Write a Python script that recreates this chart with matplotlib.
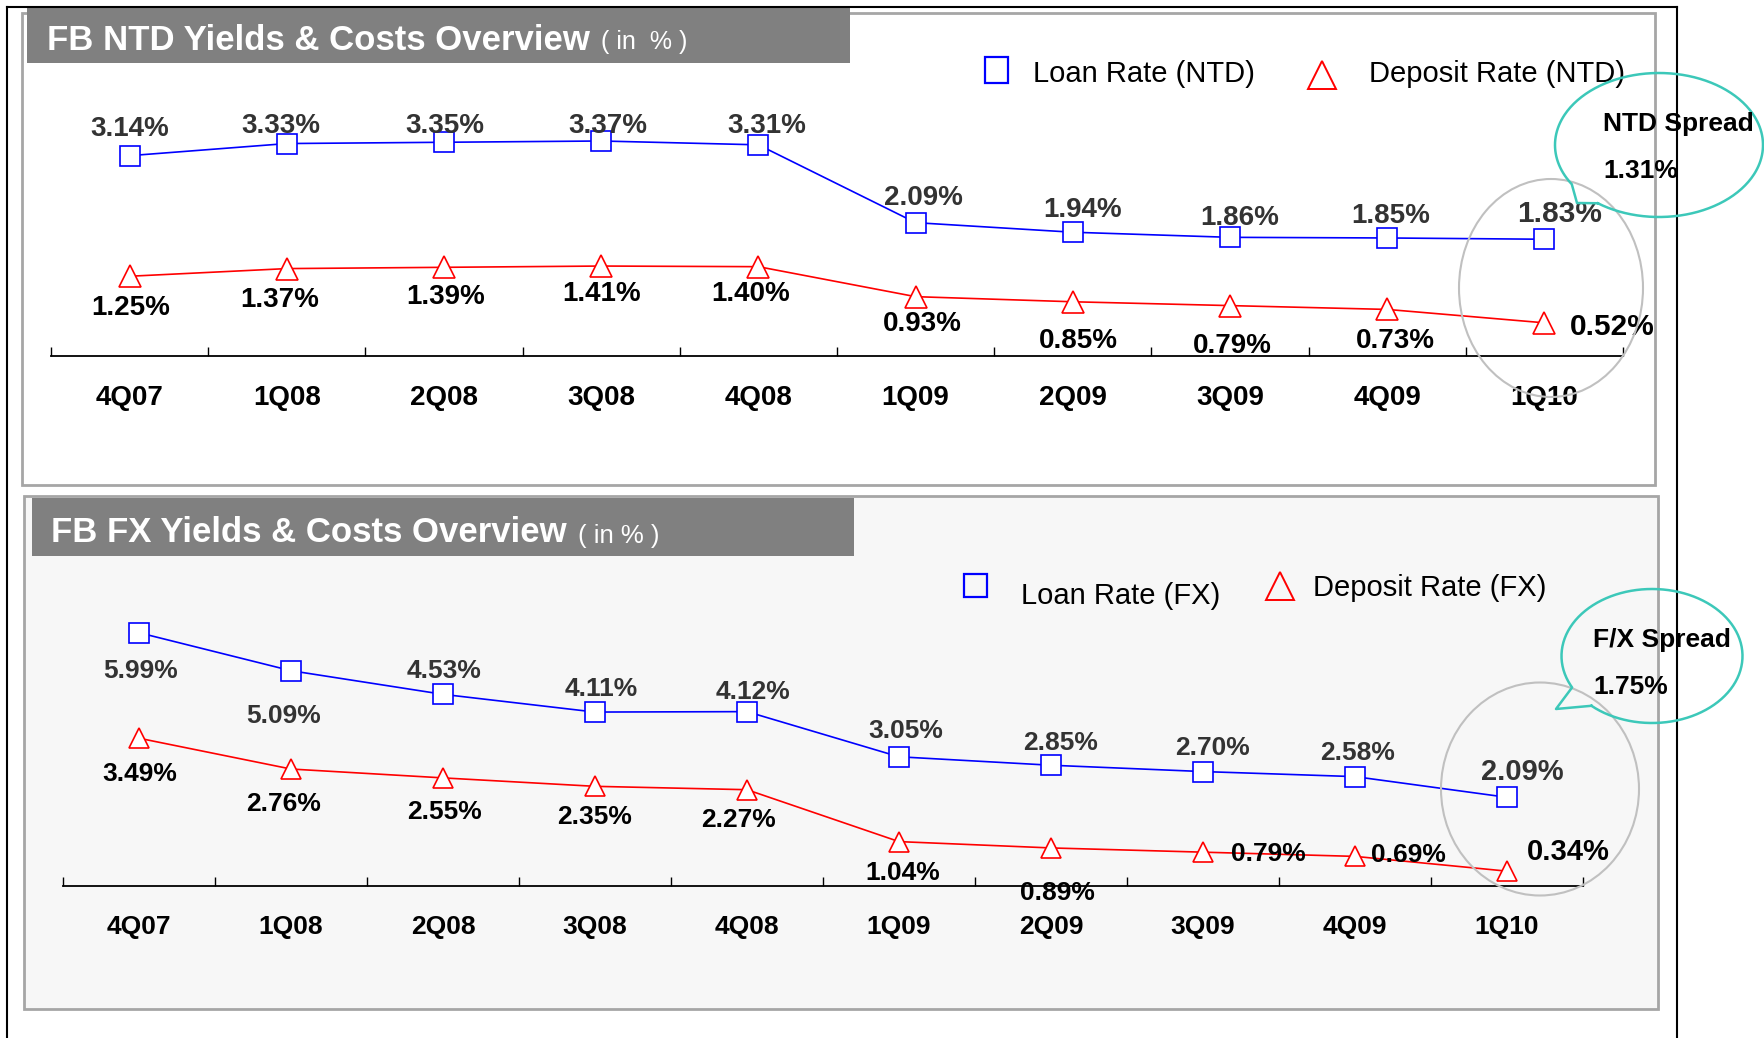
import numpy as np
import matplotlib
matplotlib.use('Agg')
from matplotlib import pyplot as plt
from matplotlib.patches import Rectangle, Ellipse

plt.rcParams['font.family'] = ['Liberation Sans', 'DejaVu Sans']

# --- data -------------------------------------------------------------
quarters = ['4Q07', '1Q08', '2Q08', '3Q08', '4Q08',
            '1Q09', '2Q09', '3Q09', '4Q09', '1Q10']
ntd_loan = [3.14, 3.33, 3.35, 3.37, 3.31, 2.09, 1.94, 1.86, 1.85, 1.83]
ntd_dep = [1.25, 1.37, 1.39, 1.41, 1.40, 0.93, 0.85, 0.79, 0.73, 0.52]
fx_loan = [5.99, 5.09, 4.53, 4.11, 4.12, 3.05, 2.85, 2.70, 2.58, 2.09]
fx_dep = [3.49, 2.76, 2.55, 2.35, 2.27, 1.04, 0.89, 0.79, 0.69, 0.34]

# label offsets from each marker, in pixels (dx, dy up)
ntd_loan_off = [(0, 29), (-6, 20), (1, 19), (7, 17), (8, 21),
                (8, 27), (10, 25), (10, 22), (3, 24), (15, 28)]
ntd_dep_off = [(1, -29), (-7, -29), (2, -27), (0, -25), (-8, -25),
               (7, -25), (6, -37), (2, -38), (8, -29), (68, -2)]
fx_loan_off = [(2, -36), (-7, -43), (1, 26), (6, 26), (6, 22),
               (7, 28), (10, 25), (10, 26), (3, 26), (15, 28)]
fx_dep_off = [(1, -33), (-7, -32), (2, -32), (0, -28), (-9, -28),
              (4, -29), (6, -43), (65, 1), (53, 4), (61, 22)]

W, H = 1764, 1038
BLUE, RED, TEAL = '#0000ff', '#ff0000', '#3cc8b9'
VSHIFT = 2.5  # va='center' sits a little above the cap centre

fig = plt.figure(figsize=(W / 100, H / 100), dpi=100)
fig.patch.set_facecolor('white')

# background decoration layer in pixel coordinates (y down)
bg = fig.add_axes([0, 0, 1, 1], zorder=0)
bg.set_xlim(0, W)
bg.set_ylim(H, 0)
bg.axis('off')

bg.add_patch(Rectangle((21.5, 12.5), 1633.5, 472.5, fc='white', ec='#a6a6a6', lw=2))
bg.add_patch(Rectangle((24, 495.5), 1634, 513.5, fc='#f7f7f7', ec='#a6a6a6', lw=2))
bg.plot([7, 7], [6.5, H], color='black', lw=1.5)
bg.plot([7, 1677], [6.5, 6.5], color='black', lw=1.5)
bg.plot([1677, 1677], [6.5, H], color='black', lw=1.5)
bg.add_patch(Rectangle((27, 6), 823, 57, fc='#808080', ec='none'))
bg.add_patch(Rectangle((31.5, 498), 822, 58, fc='#808080', ec='none'))

bg.text(47, 49.5, 'FB NTD Yields & Costs Overview', color='white',
        fontsize=25, fontweight='bold', va='baseline')
bg.text(601, 49.5, '( in  % )', color='white', fontsize=18, va='baseline')
bg.text(51, 542.5, 'FB FX Yields & Costs Overview', color='white',
        fontsize=25, fontweight='bold', va='baseline')
bg.text(578, 542.5, '( in % )', color='white', fontsize=18.5, va='baseline')

# legends
bg.add_patch(Rectangle((985, 57), 23, 26, fc='none', ec=BLUE, lw=1.6))
bg.text(1033, 72 + VSHIFT, 'Loan Rate (NTD)', fontsize=21, va='center')
bg.plot([1322], [75], marker='^', ms=20, mfc='none', mec=RED, mew=1.4)
bg.text(1369, 72 + VSHIFT, 'Deposit Rate (NTD)', fontsize=21, va='center')
bg.add_patch(Rectangle((964, 574), 23, 23, fc='none', ec=BLUE, lw=1.6))
bg.text(1021, 593 + VSHIFT, 'Loan Rate (FX)', fontsize=21, va='center')
bg.plot([1280], [586], marker='^', ms=20, mfc='none', mec=RED, mew=1.4)
bg.text(1313, 586 + VSHIFT, 'Deposit Rate (FX)', fontsize=21, va='center')


def draw_chart(rect, ymax, loan, dep, loan_off, dep_off, fs, fs_last, ms, tick_fs):
    ax = fig.add_axes(rect, zorder=2)
    ax.patch.set_visible(False)
    x = np.arange(len(quarters))
    ax.plot(x, loan, color=BLUE, lw=1.2, marker='s', ms=ms, mfc='white',
            mec=BLUE, mew=1.2, clip_on=False, zorder=3)
    ax.plot(x, dep, color=RED, lw=1.2, marker='^', ms=ms + 1, mfc='white',
            mec=RED, mew=1.2, clip_on=False, zorder=3)
    n = len(quarters)
    for i in range(n):
        size = fs_last if i == n - 1 else fs
        ax.annotate('%.2f%%' % loan[i], (x[i], loan[i]),
                    xytext=(loan_off[i][0], loan_off[i][1] - VSHIFT),
                    textcoords='offset pixels', ha='center', va='center',
                    fontsize=size, fontweight='bold', color='#333333')
        ax.annotate('%.2f%%' % dep[i], (x[i], dep[i]),
                    xytext=(dep_off[i][0], dep_off[i][1] - VSHIFT),
                    textcoords='offset pixels', ha='center', va='center',
                    fontsize=size, fontweight='bold', color='black')
    ax.set_xlim(-0.5, n - 0.5)
    ax.set_ylim(0, ymax)
    for s in ['top', 'left', 'right']:
        ax.spines[s].set_visible(False)
    ax.spines['bottom'].set_linewidth(1.3)
    ax.set_yticks([])
    ax.set_xticks(x)
    ax.set_xticklabels(quarters, fontsize=tick_fs, fontweight='bold')
    ax.set_xticks(np.arange(-0.5, n, 1.0), minor=True)
    ax.tick_params(axis='x', which='major', length=0, pad=21)
    ax.tick_params(axis='x', which='minor', direction='in', length=6.5, width=1)
    return ax


ax_top = draw_chart([51 / W, (H - 356) / H, 1572 / W, 4.0 * 63.8 / H], 4.0,
                    ntd_loan, ntd_dep, ntd_loan_off, ntd_dep_off, 20, 21.5, 15, 20)
ax_bot = draw_chart([63 / W, (H - 885.5) / H, 1520 / W, 7.0 * 42.2 / H], 7.0,
                    fx_loan, fx_dep, fx_loan_off, fx_dep_off, 19, 21, 14, 19)

# foreground: highlight ellipses and spread callouts
fg = fig.add_axes([0, 0, 1, 1], zorder=3)
fg.set_xlim(0, W)
fg.set_ylim(H, 0)
fg.axis('off')
fg.patch.set_visible(False)

fg.add_patch(Ellipse((1551, 288), 184, 218, fc='none', ec='#c0c0c0', lw=1.5))
fg.add_patch(Ellipse((1540, 789), 198, 213, fc='none', ec='#c0c0c0', lw=1.5))


def bubble(cx, cy, a, b, t1, t2, tip):
    th = np.radians(np.linspace(t2, t1 + 360, 300))
    xs = np.append(cx + a * np.cos(th), [tip[0], cx + a * np.cos(th[0])])
    ys = np.append(cy - b * np.sin(th), [tip[1], cy - b * np.sin(th[0])])
    fg.plot(xs, ys, color=TEAL, lw=1.8, clip_on=False)


bubble(1659, 145, 104, 72, 213, 234, (1577, 203))
bubble(1652, 656, 90.5, 67, 208, 228, (1556, 709))

ntd_spread = ntd_loan[-1] - ntd_dep[-1]
fx_spread = fx_loan[-1] - fx_dep[-1]
fg.text(1603, 122 + VSHIFT, 'NTD Spread', fontsize=19, fontweight='bold', va='center')
fg.text(1603, 169 + VSHIFT, '%.2f%%' % ntd_spread, fontsize=19, fontweight='bold', va='center')
fg.text(1593, 637 + VSHIFT, 'F/X Spread', fontsize=19, fontweight='bold', va='center')
fg.text(1593, 685 + VSHIFT, '%.2f%%' % fx_spread, fontsize=19, fontweight='bold', va='center')

fig.savefig('out.png', dpi=100)
